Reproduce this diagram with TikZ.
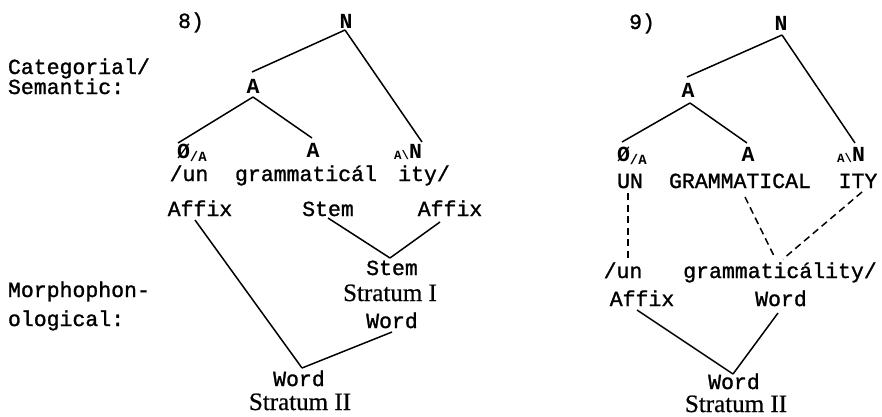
\documentclass[tikz,border=0pt]{standalone}
\usepackage{fontspec}
\setmainfont[FakeBold=0.6]{Liberation Serif}
\newfontfamily\monof[FakeBold=1.2]{Liberation Mono}
\newfontfamily\monob{Liberation Mono Bold}
\usetikzlibrary{calc}
\newcommand{\smsub}[1]{\raisebox{-3pt}{\fontsize{14}{14}\selectfont #1}}
\newcommand{\smpre}[1]{\raisebox{-1pt}{\fontsize{12.5}{12.5}\selectfont #1}}
\begin{document}
\begin{tikzpicture}[x=1pt,y=-1pt,
  every node/.style={inner sep=0pt, outer sep=0pt},
  mono/.style={font=\monof\fontsize{21.5}{24}\selectfont, anchor=base},
  cat/.style={font=\monob\fontsize{21.5}{24}\selectfont, anchor=base},
  strat/.style={font=\fontsize{25}{28}\selectfont, anchor=base},
  lbl/.style={mono, anchor=base west},
  edge/.style={line width=1.5pt},
  dedge/.style={line width=1.5pt, dash pattern=on 7pt off 4.5pt}]
\useasboundingbox (0,0) rectangle (882,416);

% ---------- side labels
\node[lbl] (cat1) at (8,74) {Categorial/};
\node[lbl] (cat2) at (8,94) {Semantic:};
\node[lbl] (mp1) at (8,297) {Morphophon-};
\node[lbl] (mp2) at (8,326) {ological:};

% ---------- tree 8
\node[mono] (n8) at (191,28) {8)};
\node[cat] (lN) at (346,28) {N};
\node[cat] (lA) at (253,93) {A};
\node[cat, anchor=base west] (lZ) at (177,158) {Ø\smsub{/A}};
\node[cat] (lA2) at (313,157) {A};
\node[cat, anchor=base east] (lAN) at (422,158) {\smpre{A\textbackslash}N};
\node[mono] (lun) at (189,181) {/un};
\node[mono] (lgr) at (306,181) {grammaticál};
\node[mono] (lity) at (424,181) {ity/};
\node[mono] (laf1) at (200,216) {Affix};
\node[mono] (lst1) at (328,216) {Stem};
\node[mono] (laf2) at (450,216) {Affix};
\node[mono] (lst2) at (392,275) {Stem};
\node[strat] (ls1) at (390,301) {Stratum I};
\node[mono] (lw1) at (392,328) {Word};
\node[mono] (lw2) at (299,386) {Word};
\node[strat] (ls2) at (300,410) {Stratum II};

\draw[edge] ($(lN.base)+(-1,2)$) -- ($(lA.base)+(-1,-21)$);
\draw[edge] ($(lN.base)+(-1,2)$) -- ($(lAN.base east)+(0,-16)$);
\draw[edge] ($(lA.base)+(0,4)$) -- ($(lZ.base west)+(1,-15)$);
\draw[edge] ($(lA.base)+(0,4)$) -- ($(lA2.base)+(-1,-19)$);
\draw[edge] ($(lst1.base)+(0,2)$) -- ($(lst2.base)+(-2,-17)$);
\draw[edge] ($(laf2.base)+(-10,6)$) -- ($(lst2.base)+(-2,-17)$);
\draw[edge] ($(lw1.base)+(0,4)$) -- ($(lw2.base)+(3,-18)$);
\draw[edge] ($(laf1.base)+(-5,4)$) -- ($(lw2.base)+(3,-18)$);

% ---------- tree 9
\node[mono] (n9) at (642,29) {9)};
\node[cat] (rN) at (781,30) {N};
\node[cat] (rA) at (688,97) {A};
\node[cat, anchor=base west] (rZ) at (617,161) {Ø\smsub{/A}};
\node[cat] (rA2) at (748,161) {A};
\node[cat, anchor=base east] (rAN) at (865,161) {\smpre{A\textbackslash}N};
\node[mono] (run) at (630,188) {UN};
\node[mono] (rgr) at (740,188) {GRAMMATICAL};
\node[mono] (rity) at (858,188) {ITY};
\node[mono] (run2) at (623,278) {/un};
\node[mono] (rgr2) at (780,278) {grammaticálity/};
\node[mono] (raf) at (642,306) {Affix};
\node[mono] (rw1) at (781,306) {Word};
\node[mono] (rw2) at (734,389) {Word};
\node[strat] (rs2) at (736,412) {Stratum II};

\draw[edge] ($(rN.base)+(1,5)$) -- ($(rA.base)+(-1,-20)$);
\draw[edge] ($(rN.base)+(1,5)$) -- ($(rAN.base east)+(-10,-18)$);
\draw[edge] ($(rA.base)+(2,6)$) -- ($(rZ.base west)+(5,-19)$);
\draw[edge] ($(rA.base)+(2,6)$) -- ($(rA2.base)+(-1,-18)$);
\draw[dedge] ($(run.base)+(-2,5)$) -- ($(run2.base)+(5,-20)$);
\draw[dedge] ($(rgr.base)+(5,9)$) -- ($(rgr2.base)+(-5,-20)$);
\draw[dedge] ($(rity.base)+(4,4)$) -- ($(rgr2.base)+(3,-19)$);
\draw[edge] ($(raf.base)+(-5,4)$) -- ($(rw2.base)+(-1,-15)$);
\draw[edge] ($(rw1.base)+(-3,7)$) -- ($(rw2.base)+(-1,-15)$);
\end{tikzpicture}
\end{document}
